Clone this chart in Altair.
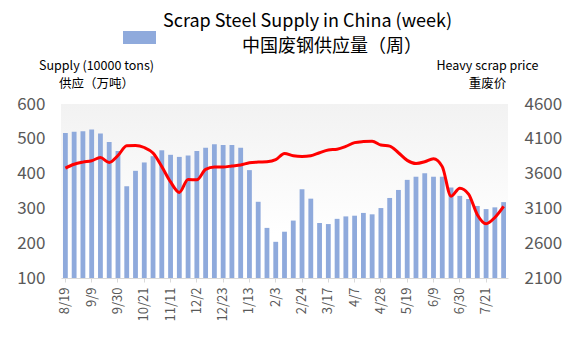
import altair as alt
import pandas as pd

weeks = ["8/19", "8/26", "9/2", "9/9", "9/16", "9/23", "9/30", "10/7", "10/14", "10/21",
         "10/28", "11/4", "11/11", "11/18", "11/25", "12/2", "12/9", "12/16", "12/23", "12/30",
         "1/6", "1/13", "1/20", "1/27", "2/3", "2/10", "2/17", "2/24", "3/3", "3/10",
         "3/17", "3/24", "3/31", "4/7", "4/14", "4/21", "4/28", "5/5", "5/12", "5/19",
         "5/26", "6/2", "6/9", "6/16", "6/23", "6/30", "7/7", "7/14", "7/21", "7/28", "8/4"]

supply = [517, 520, 522, 527, 515, 491, 465, 364, 408, 432,
          450, 467, 454, 448, 452, 465, 474, 484, 482, 482,
          474, 410, 319, 244, 204, 233, 265, 355, 328, 258,
          255, 270, 277, 279, 287, 283, 301, 330, 353, 382,
          391, 401, 391, 391, 360, 336, 327, 307, 298, 303, 318]

price = [3680, 3735, 3765, 3785, 3830, 3760, 3860, 4000, 4005, 3975,
         3895, 3700, 3480, 3330, 3515, 3510, 3660, 3695, 3695, 3710,
         3725, 3755, 3765, 3770, 3800, 3890, 3855, 3845, 3855, 3900,
         3940, 3950, 3990, 4045, 4060, 4065, 4010, 3995, 3900, 3790,
         3745, 3770, 3815, 3700, 3275, 3390, 3305, 3010, 2880, 2970, 3130]

tick_weeks = weeks[::3]
left_ticks = [100, 200, 300, 400, 500, 600]
right_ticks = [2100, 2600, 3100, 3600, 4100, 4600]

series_name = "中国废钢供应量（周）"

df = pd.DataFrame({"week": weeks, "supply": supply, "price": price, "series": series_name})

FONT = "Noto Sans CJK SC"
GREY = "#595959"
W, H = 447, 174

x = alt.X("week:N", sort=weeks, title=None,
          scale=alt.Scale(paddingInner=0.45, paddingOuter=0.225),
          axis=alt.Axis(values=tick_weeks, labelAngle=270, labelAlign="right",
                        labelBaseline="middle", labelFontSize=13, labelColor=GREY,
                        labelFont=FONT, labelPadding=5, tickSize=4, tickColor="#d9d9d9",
                        domainColor="#d9d9d9", grid=False))

# subtle plot-area background shading
backdrop = alt.Chart(pd.DataFrame({"bg": [0]})).mark_rect(
    color=alt.LinearGradient(
        gradient="linear", x1=0, y1=0, x2=0, y2=1,
        stops=[alt.GradientStop(offset=0, color="#f2f2f2"),
               alt.GradientStop(offset=0.75, color="#ffffff")]),
).encode(x=alt.value(0), x2=alt.value(W), y=alt.value(0), y2=alt.value(H))

bars = alt.Chart(df).mark_bar().encode(
    x=x,
    y=alt.Y("supply:Q",
            scale=alt.Scale(domain=[100, 600], zero=False, nice=False),
            axis=alt.Axis(values=left_ticks, grid=False, domain=False, ticks=False,
                          labelFontSize=17, labelColor=GREY, labelFont=FONT, labelPadding=16,
                          title=["Supply (10000 tons)", "供应（万吨）"], titleAngle=0,
                          titleAlign="center", titleBaseline="top", titleX=35, titleY=-45,
                          titleFontSize=12.5, titleFontWeight="normal", titleColor="#000000",
                          titleFont=FONT, titleLineHeight=18)),
    y2=alt.datum(100),
    color=alt.Color("series:N",
                    scale=alt.Scale(range=["#8FAADC"]),
                    legend=alt.Legend(orient="none", legendX=62, legendY=-83, title=None,
                                      padding=0, symbolType="M-1,-0.4H1V0.4H-1Z",
                                      symbolSize=1089, symbolStrokeWidth=0,
                                      labelOffset=86, labelFontSize=18, labelFont=FONT,
                                      labelColor="#000000", labelLimit=400,
                                      labelBaseline="top")),
)

line = alt.Chart(df).mark_line(color="#FF0000", strokeWidth=3, interpolate="monotone").encode(
    x=x,
    y=alt.Y("price:Q",
            scale=alt.Scale(domain=[2100, 4600], zero=False, nice=False),
            axis=alt.Axis(orient="right", values=right_ticks, format="d", grid=False,
                          domain=False, ticks=False,
                          labelFontSize=17, labelColor=GREY, labelFont=FONT, labelPadding=16,
                          title=["Heavy scrap price", "重废价"], titleAngle=0,
                          titleAlign="center", titleBaseline="top", titleX=-21, titleY=-45,
                          titleFontSize=12.5, titleFontWeight="normal", titleColor="#000000",
                          titleFont=FONT, titleLineHeight=18)),
)

chart = alt.layer(backdrop, bars, line).resolve_scale(y="independent").properties(
    width=W,
    height=H,
    title=alt.TitleParams("Scrap Steel Supply in China (week)", anchor="middle", dx=23,
                          fontSize=18, font=FONT, fontWeight="normal", color="#000000",
                          offset=-10),
    autosize=alt.AutoSizeParams(type="none"),
    padding={"left": 53, "top": 96, "right": 60, "bottom": 75},
    background="#ffffff",
).configure_view(
    stroke=None,
)

chart.save("out.html", embed_options={"renderer": "svg", "actions": False})
